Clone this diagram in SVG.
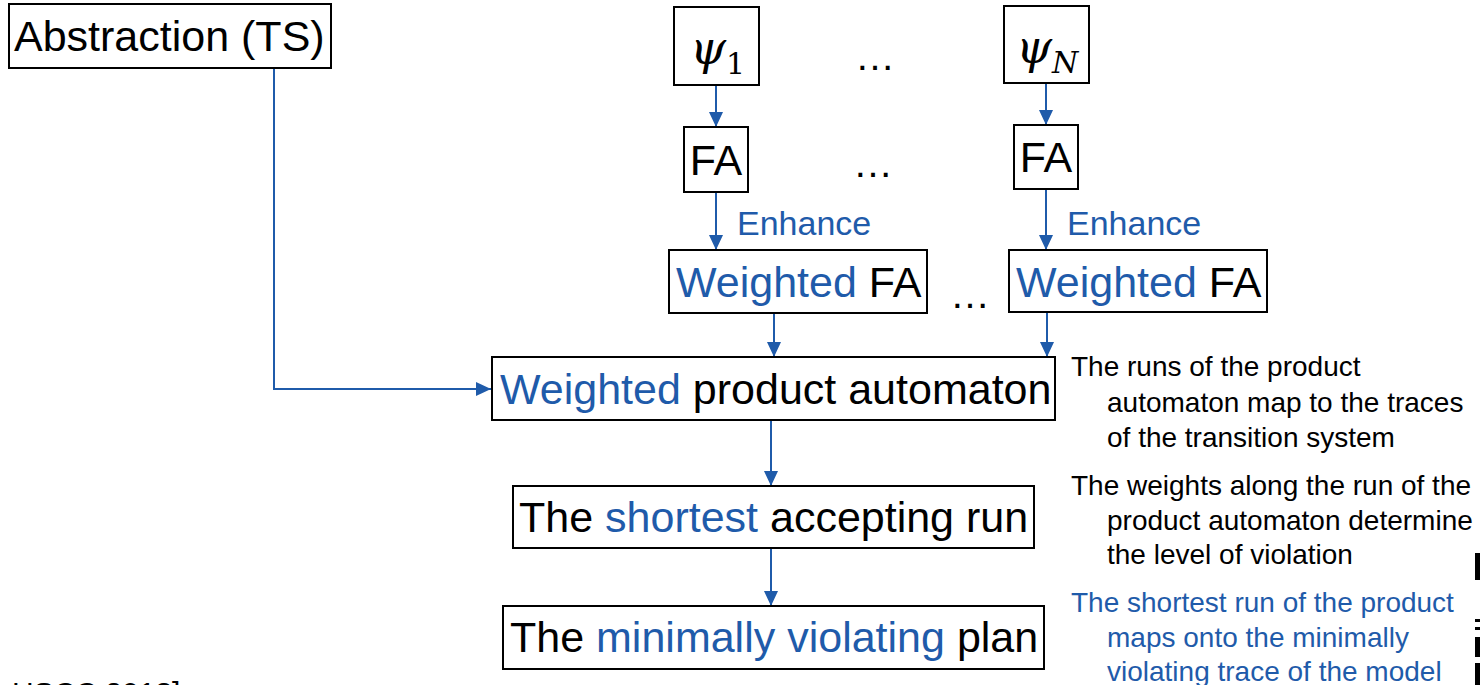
<svg xmlns="http://www.w3.org/2000/svg" width="1480" height="685" viewBox="0 0 1480 685">
<style>
.box{fill:#fff;stroke:#000;stroke-width:2}
.t{font-family:"Liberation Sans",Arial,sans-serif;font-size:43px;fill:#000}
.note{font-family:"Liberation Sans",Arial,sans-serif;font-size:28px;fill:#000}
.lbl{font-family:"Liberation Sans",Arial,sans-serif;font-size:34px;fill:#1F5BAA}
.psi{font-family:"DejaVu Serif","Liberation Serif",serif;font-style:italic;font-size:46px;fill:#000}
.sub{font-family:"DejaVu Serif","Liberation Serif",serif;font-size:30px}
.con{fill:none;stroke:#1F5BAA;stroke-width:2}
.dots{font-family:"Liberation Sans",Arial,sans-serif;font-size:40px;fill:#000;text-anchor:middle}
.b{fill:#1F5BAA}
</style>
<defs>
<marker id="ah" markerUnits="userSpaceOnUse" markerWidth="16" markerHeight="14" refX="15" refY="7" orient="auto">
<path d="M0,0 L15,7 L0,14 Z" fill="#1F5BAA"/>
</marker>
</defs>
<rect width="1480" height="685" fill="#fff"/>

<g id="connectors">
<path class="con" d="M274,68 V389 H491" marker-end="url(#ah)"/>
<path class="con" d="M716,85 V127" marker-end="url(#ah)"/>
<path class="con" d="M1046,83 V125" marker-end="url(#ah)"/>
<path class="con" d="M716,192 V250" marker-end="url(#ah)"/>
<path class="con" d="M1046,189 V250" marker-end="url(#ah)"/>
<path class="con" d="M774,313 V357" marker-end="url(#ah)"/>
<path class="con" d="M1047,312 V357" marker-end="url(#ah)"/>
<path class="con" d="M771,420 V486" marker-end="url(#ah)"/>
<path class="con" d="M771,548 V606" marker-end="url(#ah)"/>
<text class="lbl" x="737" y="235">Enhance</text>
<text class="lbl" x="1067" y="235">Enhance</text>
</g>

<g id="abstraction">
<rect class="box" x="9" y="4" width="322" height="64"/>
<text class="t" x="14" y="51">Abstraction (TS)</text>
</g>

<g id="psi1">
<rect class="box" x="674" y="7" width="85" height="78"/>
<text class="psi" x="690" y="64">ψ<tspan class="sub" font-style="normal" dy="10">1</tspan></text>
</g>

<g id="psiN">
<rect class="box" x="1004" y="6" width="85" height="77"/>
<text class="psi" x="1016" y="63">ψ<tspan class="sub" dy="10">N</tspan></text>
</g>

<g id="fa1">
<rect class="box" x="684" y="127" width="64" height="65"/>
<text class="t" x="716" y="175" text-anchor="middle">FA</text>
</g>

<g id="faN">
<rect class="box" x="1014" y="125" width="64" height="64"/>
<text class="t" x="1046" y="172" text-anchor="middle">FA</text>
</g>

<g id="wfa1">
<rect class="box" x="669" y="250" width="258" height="63"/>
<text class="t" x="676" y="297"><tspan class="b">Weighted</tspan> FA</text>
</g>

<g id="wfaN">
<rect class="box" x="1009" y="250" width="258" height="62"/>
<text class="t" x="1016" y="297"><tspan class="b">Weighted</tspan> FA</text>
</g>

<g id="ellipses">
<text class="dots" x="875" y="70">…</text>
<text class="dots" x="873" y="177">…</text>
<text class="dots" x="970" y="308">…</text>
</g>

<g id="product">
<rect class="box" x="492" y="357" width="563" height="63"/>
<text class="t" x="500" y="404"><tspan class="b">Weighted</tspan> product automaton</text>
</g>

<g id="shortest">
<rect class="box" x="513" y="486" width="521" height="62"/>
<text class="t" x="519" y="532">The <tspan class="b">shortest</tspan> accepting run</text>
</g>

<g id="plan">
<rect class="box" x="503" y="606" width="541" height="63"/>
<text class="t" x="510" y="652">The <tspan class="b">minimally violating</tspan> plan</text>
</g>

<g id="notes">
<text class="note" x="1071" y="376">The runs of the product</text>
<text class="note" x="1107" y="412">automaton map to the traces</text>
<text class="note" x="1107" y="447">of the transition system</text>
<text class="note" x="1071" y="495">The weights along the run of the</text>
<text class="note" x="1107" y="530">product automaton determine</text>
<text class="note" x="1107" y="564">the level of violation</text>
<text class="note b" x="1071" y="612">The shortest run of the product</text>
<text class="note b" x="1107" y="647">maps onto the minimally</text>
<text class="note b" x="1107" y="681">violating trace of the model</text>
</g>

<g id="citation">
<text class="t" x="12" y="703" style="font-size:30px">HSCC 2013]</text>
</g>

<g id="edge-marks" fill="#000">
<rect x="1475" y="553" width="5" height="27"/>
<rect x="1475" y="619" width="5" height="3"/>
<rect x="1475" y="627" width="5" height="3"/>
<rect x="1475" y="637" width="5" height="20"/>
<rect x="1475" y="663" width="5" height="22"/>
</g>
</svg>
